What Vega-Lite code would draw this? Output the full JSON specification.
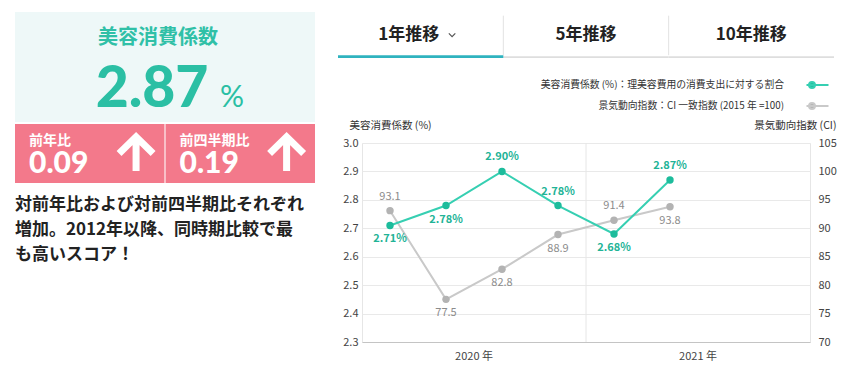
{
  "$schema": "https://vega.github.io/schema/vega-lite/v6.json",
  "padding": {"left": 15, "top": 12, "right": 0, "bottom": 0},
  "background": "white",
  "config": {
    "view": {"stroke": null},
    "font": "Noto Sans CJK JP"
  },
  "datasets": {
    "kpi": [{"metric": "美容消費係数", "value": 2.87}],
    "change": [
      {"period": "前年比", "diff": 0.09},
      {"period": "前四半期比", "diff": 0.19}
    ],
    "note": [{"text": "対前年比および対前四半期比それぞれ\n増加。2012年以降、同時期比較で最\nも高いスコア！"}],
    "tabs": [
      {"tab": "1年推移", "active": true},
      {"tab": "5年推移", "active": false},
      {"tab": "10年推移", "active": false}
    ],
    "series": [
      {"q": "2020Q1", "series": "美容消費係数 (%)：理美容費用の消費支出に対する割合", "v": 2.71},
      {"q": "2020Q2", "series": "美容消費係数 (%)：理美容費用の消費支出に対する割合", "v": 2.78},
      {"q": "2020Q3", "series": "美容消費係数 (%)：理美容費用の消費支出に対する割合", "v": 2.90},
      {"q": "2020Q4", "series": "美容消費係数 (%)：理美容費用の消費支出に対する割合", "v": 2.78},
      {"q": "2021Q1", "series": "美容消費係数 (%)：理美容費用の消費支出に対する割合", "v": 2.68},
      {"q": "2021Q2", "series": "美容消費係数 (%)：理美容費用の消費支出に対する割合", "v": 2.87},
      {"q": "2020Q1", "series": "景気動向指数：CI 一致指数 (2015 年 =100)", "v": 93.1},
      {"q": "2020Q2", "series": "景気動向指数：CI 一致指数 (2015 年 =100)", "v": 77.5},
      {"q": "2020Q3", "series": "景気動向指数：CI 一致指数 (2015 年 =100)", "v": 82.8},
      {"q": "2020Q4", "series": "景気動向指数：CI 一致指数 (2015 年 =100)", "v": 88.9},
      {"q": "2021Q1", "series": "景気動向指数：CI 一致指数 (2015 年 =100)", "v": 91.4},
      {"q": "2021Q2", "series": "景気動向指数：CI 一致指数 (2015 年 =100)", "v": 93.8}
    ]
  },
  "spacing": 20,
  "hconcat": [
    {
      "spacing": 0,
      "vconcat": [
        {
          "width": 300,
          "height": 110,
          "view": {"fill": "#eef8f8", "stroke": null},
          "data": {"name": "kpi"},
          "layer": [
            {
              "mark": {"type": "text", "dx": -7, "dy": -29, "baseline": "middle", "fontSize": 20, "fontWeight": "bold", "color": "#30c0a7"},
              "encoding": {"text": {"field": "metric"}}
            },
            {
              "mark": {"type": "text", "dx": -13, "dy": 40, "baseline": "alphabetic", "align": "center", "font": "Lato", "fontSize": 57, "fontWeight": 900, "color": "#2bbfa4"},
              "encoding": {"text": {"field": "value", "format": ".2f"}}
            },
            {
              "mark": {"type": "text", "dx": 55, "dy": 40, "baseline": "alphabetic", "align": "left", "font": "Lato", "fontSize": 30, "color": "#2bbfa4", "text": "%"},
              "encoding": {}
            }
          ]
        },
        {
          "width": 300,
          "height": 59,
          "data": {"name": "change"},
          "encoding": {
            "x": {"field": "period", "type": "nominal", "sort": null, "scale": {"type": "band", "paddingInner": 0.007, "paddingOuter": 0}, "axis": null}
          },
          "layer": [
            {"mark": {"type": "bar", "color": "#f3798b"}},
            {
              "mark": {"type": "text", "align": "left", "baseline": "middle", "dx": 14, "dy": -12.5, "fontSize": 14, "fontWeight": "bold", "color": "white"},
              "encoding": {"x": {"field": "period", "type": "nominal", "bandPosition": 0}, "text": {"field": "period"}}
            },
            {
              "mark": {"type": "text", "align": "left", "baseline": "alphabetic", "dx": 14, "dy": 19.5, "font": "Lato", "fontSize": 30, "fontWeight": 900, "color": "white"},
              "encoding": {"x": {"field": "period", "type": "nominal", "bandPosition": 0}, "text": {"field": "diff", "format": ".2f"}}
            },
            {
              "mark": {"type": "point", "shape": "M0,0.95L0,-0.9M-0.92,0L0,-0.9L0.92,0", "size": 1369, "filled": false, "stroke": "white", "strokeWidth": 7, "opacity": 1, "strokeCap": "butt", "strokeJoin": "miter"},
              "encoding": {"x": {"field": "period", "type": "nominal", "bandPosition": 0.81}}
            }
          ]
        },
        {
          "width": 300,
          "height": 38,
          "data": {"name": "note"},
          "mark": {"type": "text", "align": "left", "baseline": "middle", "lineBreak": "\n", "lineHeight": 25, "fontSize": 17, "fontWeight": "bold", "color": "#222"},
          "encoding": {"text": {"field": "text"}, "x": {"value": 0}}
        }
      ]
    },
    {
      "spacing": 85,
      "bounds": "flush",
      "center": true,
      "vconcat": [
        {
          "width": 496,
          "height": 46,
          "data": {"name": "tabs"},
          "encoding": {
            "x": {"field": "tab", "type": "nominal", "sort": null, "scale": {"type": "band", "paddingInner": 0, "paddingOuter": 0}, "axis": null}
          },
          "layer": [
            {
              "transform": [{"filter": "datum.tab !== '10年推移'"}],
              "mark": {"type": "rule", "color": "#e2e2e2", "strokeWidth": 1},
              "encoding": {
                "x": {"field": "tab", "type": "nominal", "bandPosition": 1},
                "y": {"datum": 3, "type": "quantitative", "scale": {"domain": [0, 46]}, "axis": null},
                "y2": {"datum": 46}
              }
            },
            {
              "transform": [{"filter": "!datum.active"}],
              "mark": {"type": "bar", "color": "#dedede"},
              "encoding": {"y": {"datum": 0, "type": "quantitative"}, "y2": {"datum": 2}}
            },
            {
              "transform": [{"filter": "datum.active"}],
              "mark": {"type": "bar", "color": "#2fb3bf"},
              "encoding": {"y": {"datum": 0, "type": "quantitative"}, "y2": {"datum": 3}}
            },
            {
              "transform": [{"filter": "datum.active"}],
              "mark": {"type": "text", "dx": -12, "dy": 0, "baseline": "middle", "fontSize": 17, "fontWeight": "bold", "color": "#222"},
              "encoding": {"text": {"field": "tab"}}
            },
            {
              "transform": [{"filter": "!datum.active"}],
              "mark": {"type": "text", "dy": 0, "baseline": "middle", "fontSize": 17, "fontWeight": "bold", "color": "#222"},
              "encoding": {"text": {"field": "tab"}}
            },
            {
              "transform": [{"filter": "datum.active"}],
              "mark": {"type": "point", "shape": "M-1,-0.5L0,0.5L1,-0.5", "size": 42, "filled": false, "stroke": "#555", "strokeWidth": 1.2, "opacity": 1},
              "encoding": {"x": {"field": "tab", "type": "nominal", "bandPosition": 0.69}}
            }
          ]
        },
        {
          "width": 448,
          "height": 199,
          "view": {"stroke": "#e6e6e6"},
          "data": {"name": "series"},
          "encoding": {
            "x": {
              "field": "q",
              "type": "ordinal",
              "scale": {"type": "band", "domain": ["2020Q1", "2020Q2", "2020Q3", "2020Q4", "2021Q1", "2021Q2", "2021Q3", "2021Q4"], "paddingInner": 0, "paddingOuter": 0},
              "axis": {
                "title": null,
                "labelOffset": -28,
                "ticks": false,
                "grid": false,
                "domainColor": "#c4c4c4",
                "labelAngle": 0,
                "labelPadding": 8,
                "labelFontSize": 11,
                "labelColor": "#444",
                "labelExpr": "datum.value && slice(datum.value, 4) === 'Q3' ? slice(datum.value, 0, 4) + ' 年' : ''"
              }
            }
          },
          "layer": [
            {
              "transform": [{"filter": {"and": [{"field": "q", "equal": "2021Q1"}, {"field": "series", "equal": "景気動向指数：CI 一致指数 (2015 年 =100)"}]}}],
              "mark": {"type": "rule", "color": "#e6e6e6", "strokeWidth": 1},
              "encoding": {"x": {"field": "q", "type": "ordinal", "bandPosition": 0}}
            },
            {
              "transform": [{"filter": {"field": "series", "equal": "景気動向指数：CI 一致指数 (2015 年 =100)"}}],
              "encoding": {
                "y": {
                  "field": "v",
                  "type": "quantitative",
                  "scale": {"domain": [70, 105], "zero": false, "nice": false},
                  "axis": {
                    "orient": "right",
                    "values": [70, 75, 80, 85, 90, 95, 100, 105],
                    "grid": false,
                    "domain": false,
                    "ticks": false,
                    "labelPadding": 8,
                    "labelFontSize": 11,
                    "labelColor": "#444",
                    "title": "景気動向指数 (CI)",
                    "titleAngle": 0,
                    "titleX": 26,
                    "titleY": -18,
                    "titleAlign": "right",
                    "titleBaseline": "middle",
                    "titleFontWeight": "normal",
                    "titleFontSize": 10.5,
                    "titleColor": "#333"
                  }
                }
              },
              "layer": [
                {
                  "mark": {"type": "line", "strokeWidth": 2},
                  "encoding": {
                    "color": {
                      "field": "series",
                      "type": "nominal",
                      "scale": {"domain": ["美容消費係数 (%)：理美容費用の消費支出に対する割合", "景気動向指数：CI 一致指数 (2015 年 =100)"], "range": ["#36cfb2", "#c9c9c9"]},
                      "legend": {
                        "orient": "none",
                        "legendX": 790.5,
                        "legendY": 61,
                        "title": null,
                        "direction": "vertical",
                        "padding": 0,
                        "symbolType": "M-1,0H1M-0.77,0A0.27,0.27,0,1,1,-0.23,0A0.27,0.27,0,1,1,-0.77,0",
                        "symbolSize": 484,
                        "symbolStrokeWidth": 2,
                        "labelAlign": "right",
                        "labelOffset": -45.5,
                        "labelFontSize": 9.8,
                        "labelColor": "#333",
                        "labelLimit": 400,
                        "rowPadding": 2,
                        "encode": {"symbols": {"update": {"fill": {"signal": "indexof(datum.value, '美容') === 0 ? '#1fbf9f' : '#b3b3b3'"}}}}
                      }
                    }
                  }
                },
                {"mark": {"type": "point", "filled": true, "size": 55, "opacity": 1, "color": "#b3b3b3"}},
                {
                  "transform": [{"filter": {"field": "q", "oneOf": ["2020Q1", "2021Q1"]}}],
                  "mark": {"type": "text", "dy": -14, "fontSize": 11, "color": "#8c8c8c"},
                  "encoding": {"text": {"field": "v", "format": ".1f"}}
                },
                {
                  "transform": [{"filter": {"field": "q", "oneOf": ["2020Q2", "2020Q3", "2020Q4", "2021Q2"]}}],
                  "mark": {"type": "text", "dy": 14, "fontSize": 11, "color": "#8c8c8c"},
                  "encoding": {"text": {"field": "v", "format": ".1f"}}
                }
              ]
            },
            {
              "transform": [{"filter": {"field": "series", "equal": "美容消費係数 (%)：理美容費用の消費支出に対する割合"}}, {"calculate": "format(datum.v, '.2f') + '%'", "as": "lbl"}],
              "encoding": {
                "y": {
                  "field": "v",
                  "type": "quantitative",
                  "scale": {"domain": [2.3, 3.0], "zero": false, "nice": false},
                  "axis": {
                    "orient": "left",
                    "values": [2.3, 2.4, 2.5, 2.6, 2.7, 2.8, 2.9, 3.0],
                    "format": ".1f",
                    "grid": true,
                    "gridColor": "#e9e9e9",
                    "domain": false,
                    "ticks": false,
                    "labelPadding": 4,
                    "labelFontSize": 11,
                    "labelColor": "#444",
                    "title": "美容消費係数 (%)",
                    "titleAngle": 0,
                    "titleX": -13,
                    "titleY": -18,
                    "titleAlign": "left",
                    "titleBaseline": "middle",
                    "titleFontWeight": "normal",
                    "titleFontSize": 10.5,
                    "titleColor": "#333"
                  }
                }
              },
              "layer": [
                {
                  "mark": {"type": "line", "strokeWidth": 2},
                  "encoding": {"color": {"field": "series", "type": "nominal"}}
                },
                {"mark": {"type": "point", "filled": true, "size": 55, "opacity": 1, "color": "#1dbc9c"}},
                {
                  "transform": [{"filter": {"field": "q", "oneOf": ["2020Q3", "2020Q4", "2021Q2"]}}],
                  "mark": {"type": "text", "dy": -14, "fontSize": 11, "fontWeight": "bold", "color": "#22b396"},
                  "encoding": {"text": {"field": "lbl"}}
                },
                {
                  "transform": [{"filter": {"field": "q", "oneOf": ["2020Q1", "2020Q2", "2021Q1"]}}],
                  "mark": {"type": "text", "dy": 14, "fontSize": 11, "fontWeight": "bold", "color": "#22b396"},
                  "encoding": {"text": {"field": "lbl"}}
                }
              ]
            }
          ],
          "resolve": {"scale": {"y": "independent"}, "axis": {"y": "independent"}}
        }
      ]
    }
  ]
}
